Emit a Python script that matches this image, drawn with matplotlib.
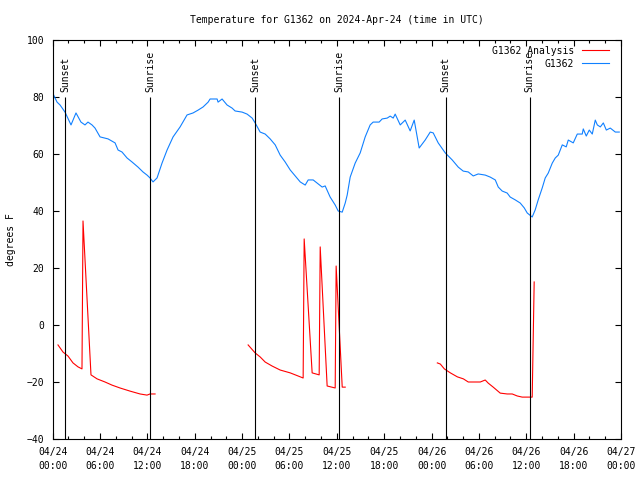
import numpy as np
import matplotlib
matplotlib.use("Agg")
import matplotlib.pyplot as plt
from matplotlib.ticker import MultipleLocator

# hours since 2024-04-24 00:00 UTC
obs_hours = [0.0, 0.55, 0.93, 1.56, 2.32, 2.95, 3.58, 4.09, 4.47, 4.98, 5.36, 6.00, 7.01, 7.90, 8.28,
             8.78, 9.42, 10.05, 10.81, 11.44, 11.95, 12.33, 12.71, 13.22, 13.85, 14.49, 15.25, 16.14,
             17.02, 17.78, 18.42, 19.05, 19.69, 19.94, 20.83, 20.95, 21.46, 22.09, 22.73, 23.11, 24.00,
             24.63, 25.27, 25.65, 26.28, 26.92, 27.55, 28.19, 28.82, 29.45, 30.09, 30.72, 31.36, 31.99,
             32.37, 33.00, 33.51, 34.14, 34.52, 35.15, 35.79, 36.17, 36.68, 37.06, 37.31, 37.69, 38.32,
             38.96, 39.59, 40.22, 40.60, 41.36, 41.74, 42.38, 42.76, 43.14, 43.39, 44.03, 44.66, 45.29,
             45.80, 46.43, 47.19, 47.83, 48.21, 48.84, 49.73, 50.62, 51.38, 52.01, 52.65, 53.28, 53.91,
             54.80, 55.43, 56.07, 56.45, 56.95, 57.58, 57.96, 58.60, 59.23, 59.74, 60.12, 60.75, 61.13,
             61.51, 62.02, 62.40, 62.78, 63.29, 63.67, 64.05, 64.56, 65.06, 65.32, 65.95, 66.46, 67.09,
             67.22, 67.60, 67.98, 68.36, 68.74, 69.00, 69.38, 69.76, 70.14, 70.64, 71.28, 71.78]
obs_temp = [81.4, 78.2, 77.2, 74.7, 70.2, 74.4, 71.2, 70.2, 71.2, 70.2, 69.1, 66.0, 65.3, 63.9, 61.4,
            60.7, 58.6, 57.2, 55.4, 53.7, 52.6, 51.6, 50.2, 51.6, 56.8, 61.4, 66.0, 69.5,
            73.7, 74.4, 75.4, 76.5, 78.2, 79.3, 79.3, 78.2, 79.3, 77.2, 76.1, 75.1, 74.7,
            74.0, 72.6, 70.9, 67.7, 67.0, 65.3, 63.2, 59.6, 57.2, 54.4, 52.3, 50.2, 49.1,
            50.9, 50.9, 49.8, 48.4, 48.8, 44.9, 42.1, 40.0, 39.6, 42.8, 45.6, 51.9, 56.8,
            60.4, 66.0, 70.2, 71.2, 71.2, 72.3, 72.6, 73.3, 72.6, 74.0, 70.2, 71.9, 68.1,
            71.9, 62.1, 64.9, 67.7, 67.4, 63.9, 60.4, 57.9, 55.4, 54.0, 53.7, 52.3, 53.0,
            52.6, 51.9, 50.9, 48.4, 47.0, 46.3, 44.9, 43.9, 42.8, 41.1, 39.3, 37.9, 40.4,
            43.9, 48.1, 51.6, 53.3, 56.8, 58.6, 59.6, 63.2, 62.5, 64.9, 63.9, 67.0, 67.0,
            68.8, 66.3, 68.4, 67.0, 71.9, 70.2, 69.5, 70.9, 68.4, 69.1, 67.7, 67.7]

# analysis runs, one per day
ana1_hours = [0.67, 1.31, 1.94, 2.57, 3.21, 3.71, 3.84, 4.85, 5.62, 6.63, 7.52, 8.53, 9.80, 11.07, 11.95, 12.33, 12.97]
ana1_temp = [-7.0, -9.5, -10.9, -13.3, -14.7, -15.4, 36.5, -17.5, -18.9, -20.0, -21.1, -22.1, -23.2, -24.2, -24.6, -24.2, -24.2]
ana2_hours = [24.76, 25.65, 26.28, 26.92, 27.80, 28.82, 30.09, 31.10, 31.73, 31.86, 32.87, 33.76, 33.89,
              34.77, 35.79, 35.91, 36.68, 37.06]
ana2_temp = [-7.0, -9.8, -11.2, -13.0, -14.4, -15.8, -16.8, -17.9, -18.6, 30.2, -16.8, -17.5, 27.4,
             -21.4, -22.1, 20.7, -21.8, -21.8]
ana3_hours = [48.73, 49.11, 49.62, 50.38, 51.27, 52.03, 52.65, 54.17, 54.80, 55.18, 55.81, 56.70, 57.58,
              58.22, 58.85, 59.48, 60.75, 61.00]
ana3_temp = [-13.3, -13.7, -15.4, -16.8, -18.2, -18.9, -20.0, -20.0, -19.3, -20.4, -21.8, -23.9, -24.2,
             -24.2, -24.9, -25.3, -25.3, 15.1]

sun_hours = [1.60, 12.33, 25.68, 36.33, 49.77, 60.41]
sun_labels = ["Sunset", "Sunrise", "Sunset", "Sunrise", "Sunset", "Sunrise"]

tick_hours = list(range(0, 73, 6))
tick_labels = ["04/24\n00:00", "04/24\n06:00", "04/24\n12:00", "04/24\n18:00",
               "04/25\n00:00", "04/25\n06:00", "04/25\n12:00", "04/25\n18:00",
               "04/26\n00:00", "04/26\n06:00", "04/26\n12:00", "04/26\n18:00",
               "04/27\n00:00"]

plt.rcParams["font.family"] = "DejaVu Sans Mono"
plt.rcParams["font.size"] = 7

fig = plt.figure(figsize=(6.4, 4.8), dpi=100)
ax = fig.add_axes([52.7 / 640, 41 / 480, (621 - 52.7) / 640, 399 / 480])

red = "#ff0000"
blue = "#1080ff"
ax.plot(ana1_hours, ana1_temp, color=red, lw=0.8, label="G1362 Analysis")
ax.plot(ana2_hours, ana2_temp, color=red, lw=0.8)
ax.plot(ana3_hours, ana3_temp, color=red, lw=0.8)
ax.plot(obs_hours, obs_temp, color=blue, lw=0.8, label="G1362")

ax.vlines(sun_hours, -40, 80, color="black", lw=0.8)
for h, lab in zip(sun_hours, sun_labels):
    ax.text(h, 81.8, lab, rotation=90, ha="center", va="bottom", fontsize=7)

ax.set_xlim(0, 72)
ax.set_ylim(-40, 100)
ax.set_xticks(tick_hours)
ax.set_xticklabels(tick_labels, linespacing=1.45)
ax.xaxis.set_minor_locator(MultipleLocator(2))
ax.set_yticks(range(-40, 101, 20))
ax.tick_params(which="both", direction="in", top=True, right=True, width=0.8, labelsize=7)
ax.tick_params(which="major", length=4.5, pad=6)
ax.tick_params(which="minor", length=2.5)
for sp in ax.spines.values():
    sp.set_linewidth(0.8)

ax.set_title("Temperature for G1362 on 2024-Apr-24 (time in UTC)", fontsize=7, pad=12.5)
ax.set_ylabel("degrees F", fontsize=7, labelpad=7.5)

ax.legend(loc="upper right", bbox_to_anchor=(1 - 6 / 568, 1.0), frameon=False, markerfirst=False,
          fontsize=7, handlelength=2.8, labelspacing=0.3, borderaxespad=0.3, borderpad=0.3,
          handletextpad=0.8)

plt.savefig("out.png", dpi=100)
plt.close()
